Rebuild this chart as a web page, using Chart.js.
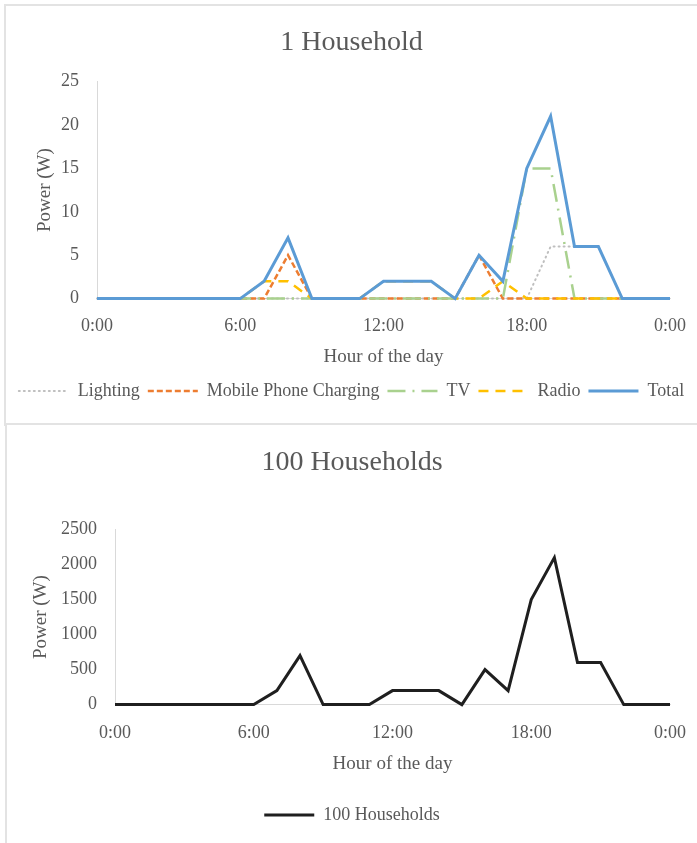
<!DOCTYPE html>
<html>
<head>
<meta charset="utf-8">
<script src="https://cdn.jsdelivr.net/npm/chart.js@4.4.1/dist/chart.umd.min.js"></script>
<style>
  html, body { margin: 0; padding: 0; background: #fff; }
  body { width: 697px; height: 843px; position: relative; overflow: hidden; }
  .box { position: absolute; border: 2px solid #e3e3e3; background: #fff; }
  #box1 { left: 4px; top: 4px; width: 700px; height: 418px; }
  #box2 { left: 5px; top: 423px; width: 700px; height: 430px; }
  canvas { position: absolute; }
  #chart1 { left: 6px; top: 6px; }
  #chart2 { left: 7px; top: 425px; }
</style>
</head>
<body>
<div class="box" id="box1"></div>
<div class="box" id="box2"></div>
<canvas id="chart1" width="691" height="418" style="width:691px;height:418px"></canvas>
<canvas id="chart2" width="690" height="418" style="width:690px;height:418px"></canvas>
<script>
const hours = [0, 1, 2, 3, 4, 5, 6, 7, 8, 9, 10, 11, 12, 13, 14, 15, 16, 17, 18, 19, 20, 21, 22, 23, 24];
const lighting = [0, 0, 0, 0, 0, 0, 0, 0, 0, 0, 0, 0, 0, 0, 0, 0, 0, 0, 0, 6, 6, 6, 0, 0, 0];
const mobileCharging = [0, 0, 0, 0, 0, 0, 0, 0, 5, 0, 0, 0, 0, 0, 0, 0, 5, 0, 0, 0, 0, 0, 0, 0, 0];
const tv = [0, 0, 0, 0, 0, 0, 0, 0, 0, 0, 0, 0, 0, 0, 0, 0, 0, 0, 15, 15, 0, 0, 0, 0, 0];
const radio = [0, 0, 0, 0, 0, 0, 0, 2, 2, 0, 0, 0, 2, 2, 2, 0, 0, 2, 0, 0, 0, 0, 0, 0, 0];
const total = [0, 0, 0, 0, 0, 0, 0, 2, 7, 0, 0, 0, 2, 2, 2, 0, 5, 2, 15, 21, 6, 6, 0, 0, 0];
const households100 = [0, 0, 0, 0, 0, 0, 0, 200, 700, 0, 0, 0, 200, 200, 200, 0, 500, 200, 1500, 2100, 600, 600, 0, 0, 0];
const xTicks = [0, 6, 12, 18, 24];

const FONT = "'Liberation Serif', serif";
const TXT = '#595959';
Chart.defaults.font.family = FONT;
Chart.defaults.color = TXT;

function pts(values) {
    return values.map((v, i) => ({ x: hours[i], y: v }));
}

function hourLabel(v) {
    return (v % 24) + ':00';
}

function xScale(tickPad, titlePad) {
    return {
        type: 'linear', min: 0, max: 24,
        afterBuildTicks: s => { s.ticks = xTicks.map(v => ({ value: v })); },
        // the last label may hang over the edge, the right gap axis handles spacing
        afterFit: s => { s.paddingRight = 0; s.paddingLeft = 0; },
        ticks: { callback: hourLabel, padding: tickPad, font: { size: 18 }, maxRotation: 0 },
        grid: { display: false, drawTicks: false },
        border: { display: true, color: '#d9d9d9', width: 1 },
        title: { display: true, text: 'Hour of the day', font: { size: 19 }, padding: titlePad }
    };
}

function yScale(max, step, width, titleOffset) {
    return {
        min: 0, max: max,
        afterFit: s => { s.width = width; },
        ticks: { stepSize: step, padding: 18, font: { size: 18 }, callback: v => String(v) },
        grid: { display: false, drawTicks: false },
        border: { display: true, color: '#d9d9d9', width: 1 },
        title: { display: true, text: 'Power (W)', font: { size: 19 }, padding: { top: titleOffset, bottom: 0 } }
    };
}

// empty axis on the right, only to keep the plot away from the right edge
function rightGap(width) {
    return {
        position: 'right', display: true,
        afterFit: s => { s.width = width; },
        ticks: { display: false }, grid: { display: false, drawTicks: false },
        border: { display: false }
    };
}

function lineSet(label, data, color, width, dash, order, cap) {
    return {
        label: label, data: pts(data), borderColor: color, backgroundColor: color,
        borderWidth: width, borderDash: dash, borderCapStyle: cap || 'butt',
        pointRadius: 0, pointHoverRadius: 0, tension: 0, fill: false, clip: false, order: order
    };
}

function legendOpts(padding) {
    return {
        position: 'bottom',
        labels: {
            usePointStyle: true, pointStyleWidth: 50, boxHeight: 10,
            font: { size: 18 }, color: TXT, padding: padding,
            generateLabels: chart => chart.data.datasets.map((ds, i) => ({
                text: ds.label, datasetIndex: i, hidden: false, fontColor: TXT,
                strokeStyle: ds.borderColor, fillStyle: ds.borderColor,
                lineWidth: ds.borderWidth, lineDash: ds.borderDash, lineCap: ds.borderCapStyle,
                pointStyle: 'line'
            }))
        }
    };
}

new Chart(document.getElementById('chart1'), {
    type: 'line',
    data: {
        datasets: [
            lineSet('Lighting', lighting, '#bfbfbf', 2, [1, 4], 4, 'round'),
            lineSet('Mobile Phone Charging', mobileCharging, '#ed7d31', 2.5, [6, 3], 3),
            lineSet('TV', tv, '#a9d18e', 2.5, [18, 7, 2, 7], 2),
            lineSet('Radio', radio, '#ffc000', 2.5, [10, 7], 1),
            lineSet('Total', total, '#5b9bd5', 3, [], 0)
        ]
    },
    options: {
        responsive: false, animation: false,
        layout: { padding: { left: 0, right: 0, top: 0, bottom: 14 } },
        scales: { x: xScale(17, { top: -9, bottom: 6 }), y: yScale(25, 5, 91, 28), r: rightGap(27) },
        plugins: {
            title: { display: true, text: '1 Household', color: TXT, font: { size: 28, weight: 'normal' }, padding: { top: 20, bottom: 22 } },
            legend: legendOpts(8),
            tooltip: { enabled: false }
        }
    }
});

new Chart(document.getElementById('chart2'), {
    type: 'line',
    data: {
        datasets: [
            lineSet('100 Households', households100, '#1f1f1f', 3, [], 0)
        ]
    },
    options: {
        responsive: false, animation: false,
        layout: { padding: { left: 0, right: 0, top: 0, bottom: 9 } },
        scales: { x: xScale(18, { top: -10, bottom: 25 }), y: yScale(2500, 500, 108, 23), r: rightGap(27) },
        plugins: {
            title: { display: true, text: '100 Households', color: TXT, font: { size: 28, weight: 'normal' }, padding: { top: 21, bottom: 50 } },
            legend: legendOpts(6),
            tooltip: { enabled: false }
        }
    }
});
</script>
</body>
</html>
